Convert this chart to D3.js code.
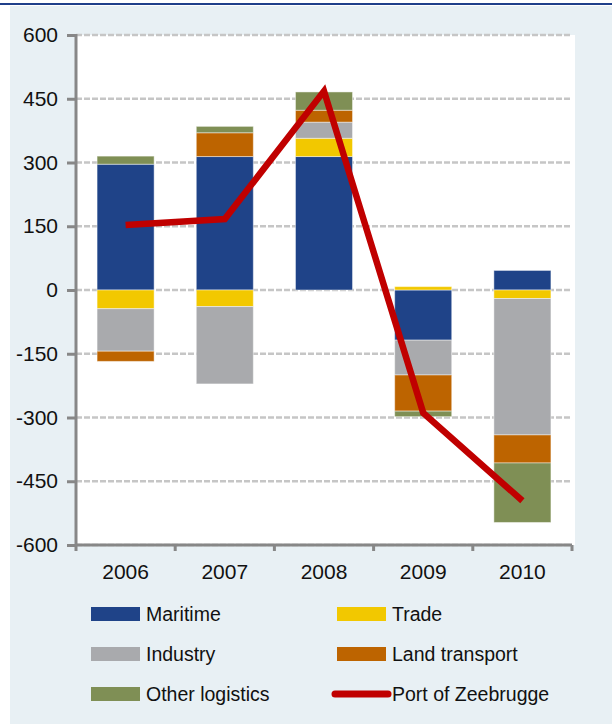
<!DOCTYPE html>
<html lang="en">
<head>
<meta charset="utf-8">
<script src="https://d3js.org/d3.v7.min.js"></script>
<style>
  body { margin: 0; background: #fff; }
  svg text { font-family: "Liberation Sans", Arial, sans-serif; fill: #111; }
</style>
</head>
<body>
<svg width="612" height="724"></svg>
<script>
// categories and series
var years = ["2006", "2007", "2008", "2009", "2010"];
var series = ["Maritime", "Trade", "Industry", "Land transport", "Other logistics"];
var maritime = [296, 314, 314, -118, 46];
var trade = [-44, -39, 43, 8, -20];
var industry = [-100, -182, 38, -82, -321];
var landTransport = [-24, 56, 28, -85, -66];
var otherLogistics = [19, 15, 43, -13, -140];
var zeebrugge = [153, 167, 468, -289, -496];
var yTicks = [600, 450, 300, 150, 0, -150, -300, -450, -600];

var colors = ["#1F4388", "#F2C800", "#A9AAAD", "#BD6400", "#7F8F55"];
var lineColor = "#C00000";

// build table for d3.stack
var table = years.map(function (y, i) {
    return {
        year: y,
        "Maritime": maritime[i],
        "Trade": trade[i],
        "Industry": industry[i],
        "Land transport": landTransport[i],
        "Other logistics": otherLogistics[i]
    };
});

var svg = d3.select("svg");

// page background + top rule
svg.append("rect").attr("x", 10).attr("y", 6).attr("width", 602).attr("height", 718).attr("fill", "#E8F0F4");
svg.append("rect").attr("x", 0).attr("y", 3).attr("width", 612).attr("height", 2).attr("fill", "#1F3F8A");

// plot box (note: "top" is taken by window.top)
var plotL = 76, plotR = 572, plotT = 35, plotB = 545;

var x = d3.scaleBand().domain(years).range([plotL, plotR]);
var y = d3.scaleLinear().domain([-600, 600]).range([plotB, plotT]);

// white plot area
svg.append("rect").attr("x", plotL).attr("y", plotT).attr("width", 575 - plotL).attr("height", plotB - plotT).attr("fill", "#fff");

// gridlines
svg.append("g").selectAll("line").data(yTicks).enter().append("line")
    .attr("x1", plotL).attr("x2", plotR)
    .attr("y1", function (d) { return y(d); })
    .attr("y2", function (d) { return y(d); })
    .attr("stroke", "#C6C6C6")
    .attr("stroke-width", 2.5)
    .attr("stroke-dasharray", "6,2");

// stacked bars
var stack = d3.stack().keys(series).offset(d3.stackOffsetDiverging);
var stacked = stack(table);
var barW = x.bandwidth() * 0.575;

svg.append("g").selectAll("g").data(stacked).enter().append("g")
    .attr("fill", function (d, i) { return colors[i]; })
    .selectAll("rect").data(function (d) { return d; }).enter().append("rect")
    .attr("x", function (d) { return x(d.data.year) + (x.bandwidth() - barW) / 2; })
    .attr("width", barW)
    .attr("y", function (d) { return y(Math.max(d[0], d[1])); })
    .attr("height", function (d) { return Math.abs(y(d[0]) - y(d[1])); })
    .attr("stroke", "rgba(255,255,255,0.45)")
    .attr("stroke-width", 1);

// y axis (plain hyphen for negatives, like the original)
var yAxis = svg.append("g")
    .attr("transform", "translate(" + plotL + ",0)")
    .call(d3.axisLeft(y).tickValues(yTicks).tickSize(9).tickPadding(9)
        .tickFormat(function (d) { return String(d); }));
yAxis.select(".domain").attr("stroke", "#878787").attr("stroke-width", 3).attr("d", "M0," + (plotT - 1) + "V" + (plotB + 1));
yAxis.selectAll(".tick line").attr("stroke", "#878787").attr("stroke-width", 3);
yAxis.selectAll(".tick text").attr("font-size", 21).attr("font-family", "Liberation Sans, Arial, sans-serif").attr("fill", "#111");

// x axis
var xAxis = svg.append("g")
    .attr("transform", "translate(0," + plotB + ")")
    .call(d3.axisBottom(x).tickSize(0).tickPadding(19));
xAxis.select(".domain").attr("stroke", "#878787").attr("stroke-width", 3).attr("d", "M" + (plotL - 1) + ",0H" + plotR);
xAxis.selectAll(".tick text").attr("font-size", 21).attr("font-family", "Liberation Sans, Arial, sans-serif").attr("fill", "#111");
// boundary ticks between categories
var bounds = years.map(function (d) { return x(d); }).concat([plotR]);
xAxis.append("g").selectAll("line").data(bounds).enter().append("line")
    .attr("x1", function (d) { return d; }).attr("x2", function (d) { return d; })
    .attr("y1", 0).attr("y2", 6)
    .attr("stroke", "#878787").attr("stroke-width", 3);

// Port of Zeebrugge line
var line = d3.line()
    .x(function (d, i) { return x(years[i]) + x.bandwidth() / 2; })
    .y(function (d) { return y(d); });
svg.append("path").datum(zeebrugge)
    .attr("d", line)
    .attr("fill", "none")
    .attr("stroke", lineColor)
    .attr("stroke-width", 6.5)
    .attr("stroke-linejoin", "miter");

// legend
var legendItems = [
    { name: "Maritime", color: colors[0], col: 0, row: 0 },
    { name: "Trade", color: colors[1], col: 1, row: 0 },
    { name: "Industry", color: colors[2], col: 0, row: 1 },
    { name: "Land transport", color: colors[3], col: 1, row: 1 },
    { name: "Other logistics", color: colors[4], col: 0, row: 2 },
    { name: "Port of Zeebrugge", color: lineColor, col: 1, row: 2, line: true }
];
var colX = [91, 337], rowY = [614, 654, 694];

var lg = svg.append("g").selectAll("g").data(legendItems).enter().append("g")
    .attr("transform", function (d) { return "translate(" + colX[d.col] + "," + rowY[d.row] + ")"; });
lg.filter(function (d) { return !d.line; }).append("rect")
    .attr("x", 0).attr("y", -7).attr("width", 49).attr("height", 14)
    .attr("fill", function (d) { return d.color; });
lg.filter(function (d) { return d.line; }).append("line")
    .attr("x1", -2).attr("x2", 51).attr("y1", 0).attr("y2", 0)
    .attr("stroke", function (d) { return d.color; })
    .attr("stroke-width", 7)
    .attr("stroke-linecap", "round");
lg.append("text")
    .attr("x", 55).attr("y", 0).attr("dy", "0.36em")
    .attr("font-size", 19.5)
    .text(function (d) { return d.name; });
</script>
</body>
</html>
